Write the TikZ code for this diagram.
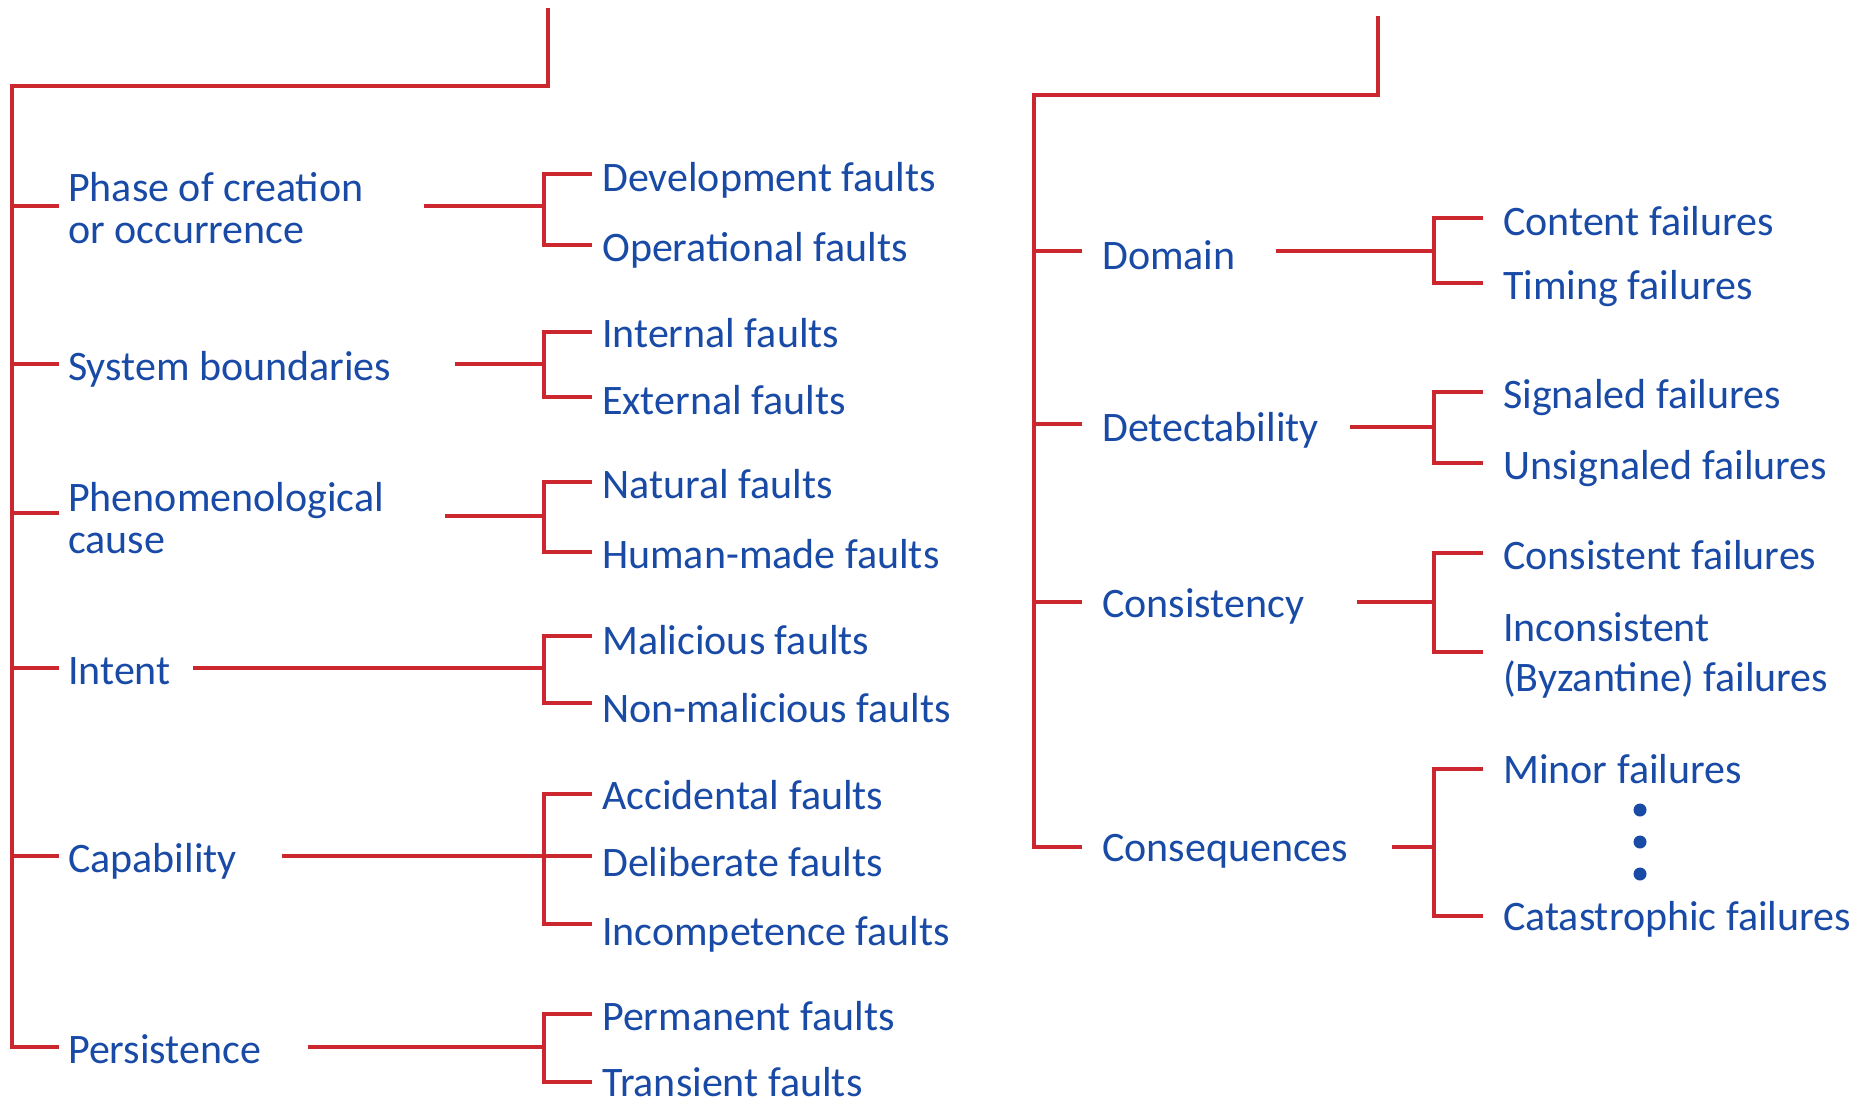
\documentclass[tikz,border=0pt]{standalone}
\usepackage{fontspec}
\setmainfont{Carlito}
\definecolor{treered}{RGB}{204,38,46}
\definecolor{treeblue}{RGB}{24,74,166}
% two stacked lines whose baseline is that of the first line
\newcommand\stackedtext[2]{\vtop{\hbox{#1}\hbox{#2}}}

\begin{document}
\begin{tikzpicture}[x=1pt,y=-1pt,
  wire/.style={draw=treered,line width=3.8pt,miter limit=4},
  lbl/.style={anchor=base west,inner sep=0pt,text=treeblue,
              font=\fontsize{42}{42}\selectfont},
  widelbl/.style={lbl,font=\fontsize{42}{50}\selectfont},
  dotmark/.style={circle,fill=treeblue,inner sep=0pt,minimum size=13pt}]
\useasboundingbox (0,0) rectangle (1874,1104);

% ---------------- fault classes (left tree) ----------------
\coordinate (ltop) at (548,8);
\coordinate (lcorner) at (548,86);
\coordinate (lroot) at (12,86);
\coordinate (lend) at (12,1047);

\node[lbl] (phase) at (68,201) {\stackedtext{Phase of creation}{or occurrence}};
\node[lbl] (sysb)  at (68,380) {System boundaries};
\node[lbl] (phen)  at (68,511) {\stackedtext{Phenomenological}{cause}};
\node[lbl] (intent) at (68,684) {Intent};
\node[lbl] (capab) at (68,872) {Capability};
\node[lbl] (pers)  at (68,1063) {Persistence};

\node[lbl] (dev)  at (602,191) {Development faults};
\node[lbl] (oper) at (602,261) {Operational faults};
\node[lbl] (intf) at (602,347) {Internal faults};
\node[lbl] (extf) at (602,414) {External faults};
\node[lbl] (natf) at (602,498) {Natural faults};
\node[lbl] (humf) at (602,568) {Human-made faults};
\node[lbl] (malf) at (602,654) {Malicious faults};
\node[lbl] (nmalf) at (602,722) {Non-malicious faults};
\node[lbl] (accf) at (602,809) {Accidental faults};
\node[lbl] (delf) at (602,876) {Deliberate faults};
\node[lbl] (incf) at (602,945) {Incompetence faults};
\node[lbl] (perf) at (602,1030) {Permanent faults};
\node[lbl] (traf) at (602,1096) {Transient faults};

% trunk
\draw[wire] (ltop) -- (lcorner) -- (lroot) -- (lend) -- (59,1047);
% stubs from the trunk to each class
\foreach \yy in {206,364,513,668,856}
  \draw[wire] (12,\yy) -- (59,\yy);

% connectors and brackets
\draw[wire] (424,206) -- (544,206);
\draw[wire] (592,174) -- (544,174) -- (544,245) -- (592,245);
\draw[wire] (455,364) -- (544,364);
\draw[wire] (592,332) -- (544,332) -- (544,397) -- (592,397);
\draw[wire] (445,516) -- (544,516);
\draw[wire] (592,482) -- (544,482) -- (544,552) -- (592,552);
\draw[wire] (193,668) -- (544,668);
\draw[wire] (592,636) -- (544,636) -- (544,703) -- (592,703);
\draw[wire] (282,856) -- (592,856);
\draw[wire] (592,794) -- (544,794) -- (544,924) -- (592,924);
\draw[wire] (308,1047) -- (544,1047);
\draw[wire] (592,1014) -- (544,1014) -- (544,1082) -- (592,1082);

% ---------------- failure modes (right tree) ----------------
\coordinate (rtop) at (1378,16);
\coordinate (rcorner) at (1378,95);
\coordinate (rroot) at (1034,95);
\coordinate (rend) at (1034,847);

\node[lbl] (domain) at (1102,269) {Domain};
\node[lbl] (detect) at (1102,441) {Detectability};
\node[lbl] (consis) at (1102,617) {Consistency};
\node[lbl] (conseq) at (1102,861) {Consequences};

\node[lbl] (contf) at (1503,235) {Content failures};
\node[lbl] (timf)  at (1503,299) {Timing failures};
\node[lbl] (sigf)  at (1503,408) {Signaled failures};
\node[lbl] (usigf) at (1503,479) {Unsignaled failures};
\node[lbl] (cstf)  at (1503,569) {Consistent failures};
\node[widelbl] (icstf) at (1503,641) {\stackedtext{Inconsistent}{(Byzantine) failures}};
\node[lbl] (minf)  at (1503,783) {Minor failures};
\node[lbl] (catf)  at (1503,930) {Catastrophic failures};

\node[dotmark] (dota) at (1640,810) {};
\node[dotmark] (dotb) at (1640,842) {};
\node[dotmark] (dotc) at (1640,874) {};

% trunk
\draw[wire] (rtop) -- (rcorner) -- (rroot) -- (rend) -- (1082,847);
\foreach \yy in {251,424,602}
  \draw[wire] (1034,\yy) -- (1082,\yy);

% connectors and brackets
\draw[wire] (1276,251) -- (1434,251);
\draw[wire] (1483,218) -- (1434,218) -- (1434,283) -- (1483,283);
\draw[wire] (1350,427) -- (1434,427);
\draw[wire] (1483,392) -- (1434,392) -- (1434,463) -- (1483,463);
\draw[wire] (1357,602) -- (1434,602);
\draw[wire] (1483,553) -- (1434,553) -- (1434,652) -- (1483,652);
\draw[wire] (1392,847) -- (1434,847);
\draw[wire] (1483,769) -- (1434,769) -- (1434,916) -- (1483,916);
\end{tikzpicture}
\end{document}
